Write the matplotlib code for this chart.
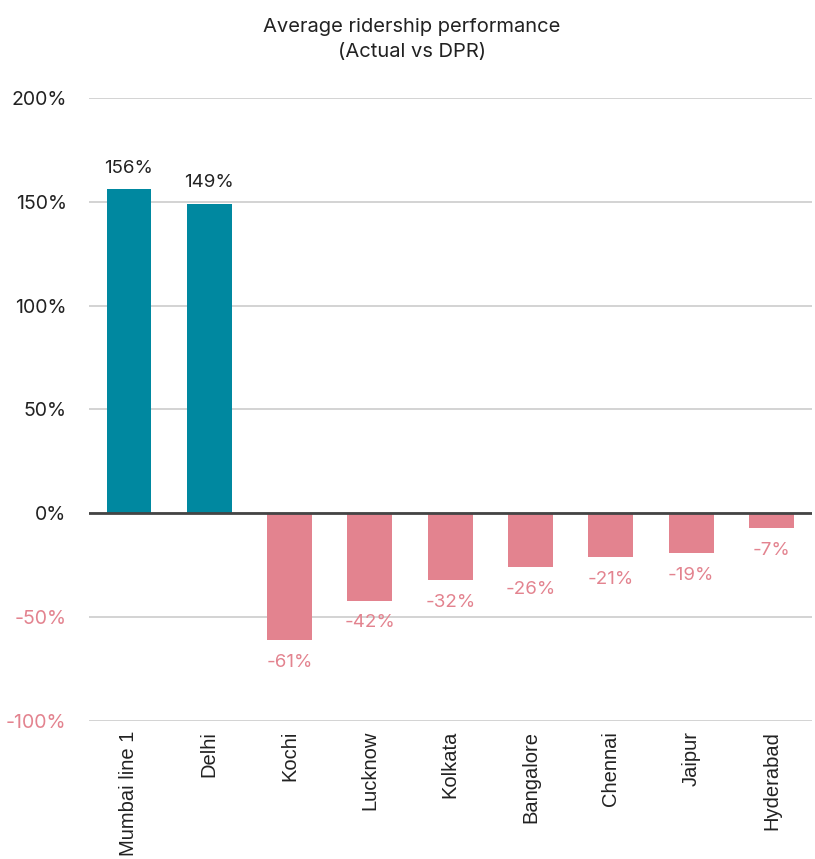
import matplotlib.pyplot as plt
from matplotlib.ticker import FuncFormatter

# Ridership performance, actual vs DPR projection (%)
cities = ['Mumbai line 1', 'Delhi', 'Kochi', 'Lucknow', 'Kolkata',
          'Bangalore', 'Chennai', 'Jaipur', 'Hyderabad']
performance = [156, 149, -61, -42, -32, -26, -21, -19, -7]

pos_color = '#0088A0'
neg_color = '#E3838F'
text_color = '#222222'

plt.rcParams['font.family'] = ['Inter', 'DejaVu Sans']

fig = plt.figure(figsize=(8.15, 8.59), dpi=100)
ax = fig.add_axes([0.109, 0.1607, 0.887, 0.7253])

colors = [pos_color if v >= 0 else neg_color for v in performance]
bars = ax.bar(range(len(cities)), performance, width=0.56, color=colors, zorder=3)

# value labels above positive bars, below negative ones
for bar, v in zip(bars, performance):
    x = bar.get_x() + bar.get_width() / 2
    if v >= 0:
        ax.annotate(f'{v}%', (x, v), xytext=(0, 9), textcoords='offset points',
                    ha='center', va='bottom', fontsize=13.5, color=text_color)
    else:
        ax.annotate(f'{v}%', (x, v), xytext=(0, -10), textcoords='offset points',
                    ha='center', va='top', fontsize=13.5, color=neg_color)

ax.set_xlim(-0.5, len(cities) - 0.5)
ax.set_ylim(-100, 200)
ax.set_yticks([-100, -50, 0, 50, 100, 150, 200])
ax.yaxis.set_major_formatter(FuncFormatter(lambda v, _: f'{int(v)}%'))
ax.grid(axis='y', color='#cccccc', linewidth=1.2, zorder=0)
ax.axhline(0, color='#444444', linewidth=2, zorder=4)

ax.set_xticks(range(len(cities)))
ax.set_xticklabels(cities, rotation=90, fontsize=14.5, family='Liberation Sans',
                   color=text_color)
ax.tick_params(axis='x', length=0, pad=7)
ax.tick_params(axis='y', length=0, pad=16, labelsize=14)
for lbl, t in zip(ax.get_yticklabels(), ax.get_yticks()):
    lbl.set_color(neg_color if t < 0 else text_color)

for s in ax.spines.values():
    s.set_visible(False)

fig.text(0.505, 0.954, 'Average ridership performance\n(Actual vs DPR)',
         ha='center', va='center', fontsize=14.5, color=text_color, linespacing=1.55)

fig.savefig('out.png', dpi=100)
